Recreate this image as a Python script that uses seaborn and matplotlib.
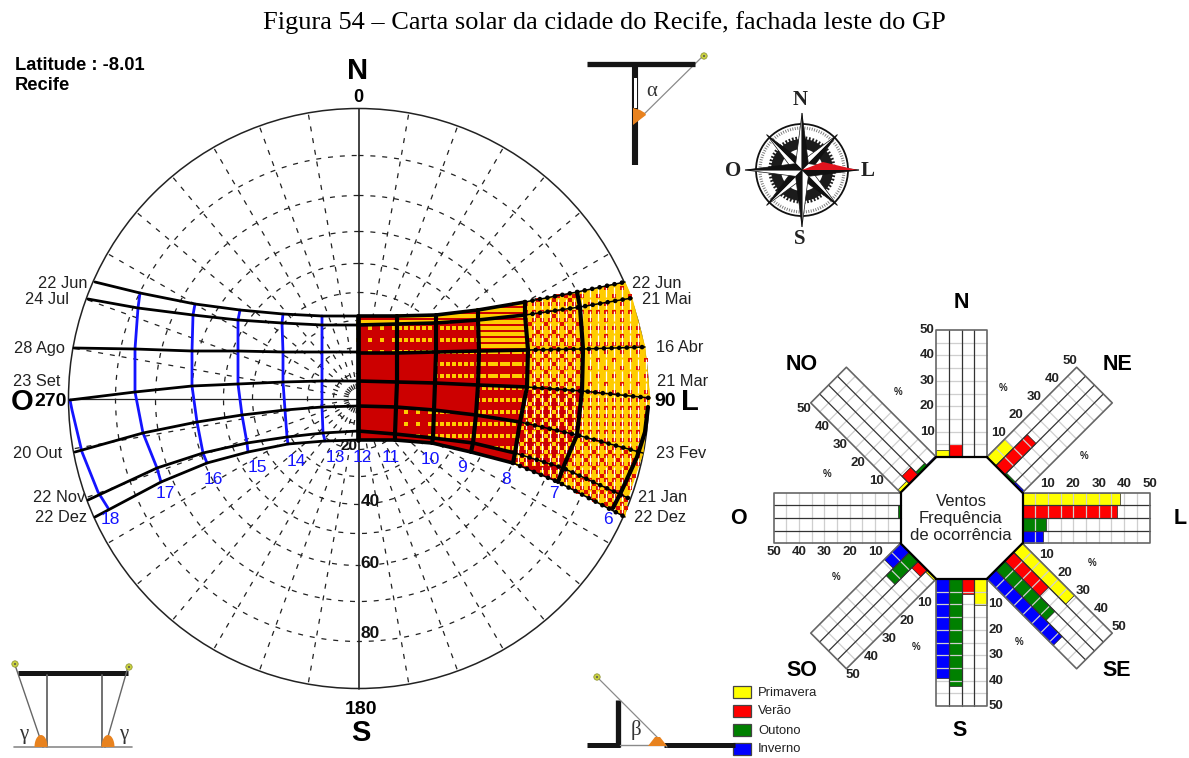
from matplotlib import pyplot as plt
from matplotlib.patches import Circle, Wedge, Polygon, Rectangle
from matplotlib.path import Path
import numpy as np
import seaborn as sns

# solar chart, values (rows = date curves, columns = hour lines)
left_dates = ["22 Jun", "24 Jul", "28 Ago", "23 Set", "20 Out", "22 Nov", "22 Dez"]
right_dates = ["22 Jun", "21 Mai", "16 Abr", "21 Mar", "23 Fev", "21 Jan", "22 Dez"]

left_x = [[358, 322, 283, 240, 195, 140, 95],
          [358, 322, 282, 238, 193, 138, 88],
          [358, 322, 283, 238, 192, 135, 74],
          [358, 322, 283, 238, 192, 135, 70],
          [358, 322, 285, 242, 197, 143, 75],
          [358, 323, 287, 247, 203, 157, 88],
          [358, 325, 288, 248, 207, 161, 95]]
left_y = [[316, 316, 314, 310, 304, 293, 282],
          [325, 325, 323, 320, 315, 308, 299],
          [352, 352, 352, 351, 351, 349, 348],
          [381, 381, 382, 384, 386, 392, 400],
          [406, 407, 410, 415, 422, 433, 452],
          [431, 433, 437, 443, 453, 468, 500],
          [440, 441, 444, 452, 463, 482, 517]]
right_x = [[358, 397, 436, 478, 525, 577, 625],
           [358, 397, 436, 478, 525, 580, 632],
           [358, 397, 436, 479, 528, 583, 645],
           [358, 397, 435, 478, 527, 582, 650],
           [358, 396, 434, 476, 520, 577, 643],
           [358, 395, 433, 473, 515, 563, 628],
           [358, 395, 432, 471, 513, 558, 625]]
right_y = [[316, 316, 315, 310, 302, 292, 282],
           [325, 324, 323, 320, 315, 307, 298],
           [353, 353, 352, 351, 350, 349, 347],
           [381, 382, 383, 385, 387, 391, 398],
           [406, 407, 410, 415, 422, 435, 453],
           [431, 434, 438, 443, 453, 468, 498],
           [440, 440, 443, 452, 463, 482, 517]]
hour18_x = [70, 72, 82, 98, 108]
hour18_y = [400, 410, 452, 492, 508]
hour6_x = [648, 645, 637, 622, 613]
hour6_y = [407, 432, 457, 490, 508]

# share of yellow in each cell of the shaded part
yellow_share = [[.35, .35, .35, .45, .70, .85],
                [.05, .10, .15, .30, .60, .80],
                [.00, .00, .08, .20, .65, .85],
                [.00, .00, .00, .12, .40, .75],
                [.00, .03, .08, .12, .35, .65],
                [.00, .00, .00, .00, .30, .55]]

altitude_ticks = [20, 40, 60, 80]
altitude_radii = [25, 51, 78, 106, 135, 167, 203, 243]

# wind frequency, %, order of wind_dirs
wind_dirs = ["N", "NE", "L", "SE", "S", "SO", "O", "NO"]
primavera = [2.9, 10, 38.5, 29, 10.2, 1, 0.3, 1.5]
verao = [5, 17.5, 37.4, 19.5, 6, 3.7, 0.3, 4.2]
outono = [0, 1, 9.2, 28, 42, 13, 1, 1.5]
inverno = [0, 1, 8, 37, 39, 9, 0, 0.5]
seasons = ["Primavera", "Verão", "Outono", "Inverno"]
season_colors = ["#ffff00", "#ff0000", "#008000", "#0000ff"]
wind_ticks = [10, 20, 30, 40, 50]

sns.set_theme(style="white")
plt.rcParams['font.family'] = ['Liberation Sans', 'DejaVu Sans']

fig = plt.figure(figsize=(11.89, 7.58), dpi=100)
ax = fig.add_axes([0, 0, 1, 1])
ax.set_xlim(0, 1189)
ax.set_ylim(758, 0)
ax.axis("off")

CX, CY, R = 358.5, 398.5, 290
BLUE = "#1414ff"
YELLOW = "#ffcc00"


def curve(x, y, color="black", lw=2.0, z=4, **kw):
    sns.lineplot(x=np.asarray(x), y=np.asarray(y), sort=False, estimator=None, color=color,
                 linewidth=lw, zorder=z, ax=ax, legend=False, **kw)


def label(x, y, s, size, weight="normal", color="black", ha="center", **kw):
    ax.text(x, y, s, fontsize=size, fontweight=weight, color=color, ha=ha, va="center", zorder=8, **kw)


def dots(pts, color, s):
    sns.scatterplot(x=pts[:, 0], y=pts[:, 1], color=color, marker="s", s=s, linewidth=0, zorder=3.2,
                    ax=ax, legend=False)


fig.text(604 / 1189, 1 - 23 / 758, "Figura 54 – Carta solar da cidade do Recife, fachada leste do GP",
         family="Liberation Serif", fontsize=19, color="black", ha="center", va="center")

# polar grid
ax.add_patch(Circle((CX, CY), R, fill=False, ec="#222222", lw=1.1, zorder=2))
for r in altitude_radii:
    ax.add_patch(Circle((CX, CY), r, fill=False, ec="#222222", lw=0.9, ls=(0, (4, 5.5)), zorder=1))
for az in range(0, 360, 10):
    if az % 90 == 0:
        continue
    a = np.deg2rad(az)
    ax.plot([CX + 10 * np.sin(a), CX + R * np.sin(a)], [CY - 10 * np.cos(a), CY - R * np.cos(a)],
            color="#222222", lw=0.9, ls=(0, (4, 5.5)), zorder=1)
curve([CX, CX], [CY - R, CY + R], color="#222222", lw=1.2, z=2)
curve([CX - R, CX + R], [CY, CY], color="#222222", lw=0.9, z=2)

# shaded part of the east side
rx, ry = np.array(right_x, float), np.array(right_y, float)
bayer = np.array([[0, 8, 2, 10], [12, 4, 14, 6], [3, 11, 1, 9], [15, 7, 13, 5]]) / 16 + 1 / 32
gx, gy = np.meshgrid(np.arange(358, 652, 3.0), np.arange(280, 520, 3.0))
fine = np.column_stack([gx.ravel(), gy.ravel()])
fix = np.tile(np.arange(gx.shape[1]), gx.shape[0])
fiy = np.repeat(np.arange(gx.shape[0]), gx.shape[1])
gx, gy = np.meshgrid(np.arange(358, 652, 4.0), np.arange(280, 520, 4.0))
coarse = np.column_stack([gx.ravel(), gy.ravel()])
cix = np.tile(np.arange(gx.shape[1]), gx.shape[0])
ciy = np.repeat(np.arange(gx.shape[0]), gx.shape[1])
speck, yel, red, white = [], [], [], []
for j in range(6):
    for i in range(6):
        corners = [(rx[j, i], ry[j, i]), (rx[j, i + 1], ry[j, i + 1]),
                   (rx[j + 1, i + 1], ry[j + 1, i + 1]), (rx[j + 1, i], ry[j + 1, i])]
        cell = Path(corners)
        share = yellow_share[j][i]
        base = YELLOW if share >= .5 else "#cc0000"
        ax.add_patch(Polygon(corners, closed=True, fc=base, ec=base, lw=0.5, zorder=3))
        if i < 4:
            # thin wavy rows of yellow in the dark red
            inside = cell.contains_points(fine)
            step = 2 if share >= .3 else 4
            speck.append(fine[inside & (fiy % step == 0) & (bayer[fiy % 4, fix % 4] < share * 3)])
        else:
            inside = cell.contains_points(coarse)
            if share >= .5:
                red.append(coarse[inside & (bayer[ciy % 4, cix % 4] < (1 - share))])
            else:
                yel.append(coarse[inside & (bayer[ciy % 4, cix % 4] < share)])
            white.append(coarse[inside & (cix % 2 == 0) & (ciy % 3 == 0)])
dots(np.vstack(speck), YELLOW, 5)
dots(np.vstack(yel), YELLOW, 9)
dots(np.vstack(red), "#dd1100", 5)
white = np.vstack(white)
ax.vlines(white[:, 0], white[:, 1] - 5, white[:, 1] + 5, color="white", lw=0.9, zorder=3.4)

# date curves and hour lines
for j in range(7):
    curve(left_x[j], left_y[j], lw=2.0)
    curve(right_x[j][:5], right_y[j][:5], lw=2.6)
    curve(right_x[j][4:], right_y[j][4:], lw=1.1)
    curve(right_x[j][4:], right_y[j][4:], lw=3.4, linestyle=(0, (0.01, 1.6)), dash_capstyle="round")
lx, ly = np.array(left_x), np.array(left_y)
for i in range(1, 6):
    curve(lx[:, i], ly[:, i], color=BLUE, lw=2.0, z=3.8)
    curve(rx[:, i], ry[:, i], lw=3.0, z=4.2)
curve(hour18_x, hour18_y, color=BLUE, lw=2.0, z=3.8)
curve(hour6_x, hour6_y, lw=3.0, z=4.2)
curve(rx[:, 0], ry[:, 0], lw=3.4, z=4.2)

# labels of the chart
label(15, 66, "Latitude : -8.01", 13.2, "bold", ha="left")
label(15, 86, "Recife", 13.2, "bold", ha="left")
label(358, 71, "N", 21, "bold")
label(358, 97, "0", 13, "bold")
label(22, 402, "O", 21, "bold")
label(51, 402, "270", 14, "bold")
label(665, 402, "90", 14, "bold")
label(690, 402, "L", 21, "bold")
label(361, 709, "180", 14, "bold")
label(361, 733, "S", 21, "bold")
for a, yy in zip(altitude_ticks, [446, 502, 563, 634]):
    label(370 if a > 20 else 349, yy, str(a), 12.5 if a > 20 else 11, "bold", color="#111111")
for s, x, y in zip(left_dates, [87, 69, 65, 60, 62, 85, 87], [284, 300, 348, 381, 453, 497, 518]):
    label(x, y, s, 11.8, color="#222222", ha="right")
for s, x, y in zip(right_dates, [632, 642, 656, 657, 656, 638, 634], [284, 299, 347, 381, 453, 497, 518]):
    label(x, y, s, 11.8, color="#222222", ha="left")
for s, x, y in zip(["18", "17", "16", "15", "14", "13", "12"],
                   [110, 165, 213, 257, 296, 335, 362], [520, 493, 479, 468, 461, 457, 457]):
    label(x, y, s, 12.5, color=BLUE)
for s, x, y in zip(["11", "10", "9", "8", "7", "6"],
                   [391, 430, 462, 506, 554, 608], [458, 460, 467, 479, 493, 519]):
    label(x, y, s, 12.5, color=BLUE)

# small section sketches
ORANGE = "#e8821e"
GREY = "#8a8a8a"


def sun(x, y):
    ax.add_patch(Circle((x, y), 3.2, fc="#c8d040", ec="#8a9030", lw=0.5, zorder=5))
    ax.add_patch(Circle((x, y), 1.0, fc="#555555", ec="none", zorder=6))


def dome(x0, rx_, ry_, y0=747):
    t = np.linspace(np.pi, 2 * np.pi, 20)
    ax.add_patch(Polygon(np.column_stack([x0 + rx_ * np.cos(t), y0 + ry_ * np.sin(t)]), closed=True,
                         fc=ORANGE, ec="none", zorder=5))


# alpha
curve([587, 695], [64, 64], color="#151515", lw=3.8, solid_capstyle="butt")
curve([635, 635], [64, 165], color="#151515", lw=4.4, solid_capstyle="butt")
ax.add_patch(Rectangle((633.5, 78), 3, 30, fc="white", ec="none", zorder=5))
ax.add_patch(Polygon([(633, 108), (640, 110), (645, 113), (646, 115), (633, 125)], closed=True,
                     fc=ORANGE, ec="none", zorder=5))
curve([633, 703], [125, 56], color=GREY, lw=0.9, z=3)
sun(704, 56)
label(652, 92, "α", 15, family="Liberation Serif", color="#333333")
# gamma
curve([18, 128], [673, 673], color="#151515", lw=3.6, solid_capstyle="butt")
curve([47, 47], [675, 747], color="#666666", lw=1.3)
curve([102, 102], [675, 747], color="#666666", lw=1.3)
curve([14, 132], [747, 747], color=GREY, lw=1.2)
curve([43, 15], [747, 665], color="#666666", lw=1.0)
curve([105, 128], [747, 667], color="#666666", lw=1.0)
dome(41, 6.5, 12)
dome(108, 6.5, 12)
sun(15, 664)
sun(129, 667)
label(24, 735, "γ", 15, family="Liberation Serif", color="#333333")
label(124, 735, "γ", 15, family="Liberation Serif", color="#333333")
# beta
curve([618, 618], [700, 747], color="#151515", lw=3.8, solid_capstyle="butt")
curve([587, 620], [745, 745], color="#151515", lw=3.6, solid_capstyle="butt")
curve([664, 735], [745, 745], color="#151515", lw=3.6, solid_capstyle="butt")
curve([620, 664], [745, 745], color=GREY, lw=1.0)
curve([667, 597], [747, 677], color=GREY, lw=0.9)
ax.add_patch(Polygon([(648, 746), (655, 737), (660, 737), (667, 746)], closed=True, fc=ORANGE, ec="none", zorder=5))
sun(597, 677)
label(636, 730, "β", 15, family="Liberation Serif", color="#333333")

# compass rose
RX, RY = 802, 170
ax.add_patch(Circle((RX, RY), 46, fill=False, ec="#111111", lw=1.3, zorder=2))
ax.add_patch(Circle((RX, RY), 42, fill=False, ec="#777777", lw=2.2, ls=(0, (0.3, 0.5)), zorder=2))
ax.add_patch(Wedge((RX, RY), 31, 0, 360, width=10, fc="#1c1c1c", ec="none", zorder=2))
ax.add_patch(Circle((RX, RY), 32, fill=False, ec="#1c1c1c", lw=2.5, ls=(0, (0.5, 0.5)), zorder=2))
for az, tip, side in [(a, 50, 9) for a in (45, 135, 225, 315)] + [(a, 57, 9) for a in (0, 90, 180, 270)]:
    t = np.deg2rad(az)
    p = (RX + tip * np.sin(t), RY - tip * np.cos(t))
    q1 = (RX + side * np.sin(t + np.pi / 4), RY - side * np.cos(t + np.pi / 4))
    q2 = (RX + side * np.sin(t - np.pi / 4), RY - side * np.cos(t - np.pi / 4))
    ax.add_patch(Polygon([(RX, RY), p, q2], closed=True, fc="white", ec="#111111", lw=0.5, zorder=3))
    ax.add_patch(Polygon([(RX, RY), p, q1], closed=True, fc="#111111", ec="#111111", lw=0.5, zorder=3))
ax.add_patch(Polygon([(RX, RY), (823, 162), (857, 170)], closed=True, fc="#e0141e", ec="none", zorder=4))
for s, x, y in [("N", 800, 100), ("O", 733, 171), ("L", 868, 171), ("S", 800, 239)]:
    label(x, y, s, 15, "bold", family="Liberation Serif", color="#222222")

# wind diagram
WX, WY = 961.5, 518
BASE, PCT, LANE = 61, 2.54, 12.6


def arm(i, pct, lane):
    t = np.deg2rad(45 * i)
    r = BASE + pct * PCT
    s = (lane - 2) * LANE
    return WX + r * np.sin(t) + s * np.cos(t), WY - r * np.cos(t) + s * np.sin(t)


for i, name in enumerate(wind_dirs):
    for k, vals in enumerate([primavera, verao, outono, inverno]):
        v = vals[i]
        ax.add_patch(Polygon([arm(i, 0, k), arm(i, v, k), arm(i, v, k + 1), arm(i, 0, k + 1)], closed=True,
                             fc=season_colors[k], ec="#222222", lw=0.5, zorder=2))
    for p in range(5, 50, 5):
        a, b = arm(i, p, 0), arm(i, p, 4)
        curve([a[0], b[0]], [a[1], b[1]], color="#cfcfcf", lw=0.9, z=2.5)
    for k in (1, 2, 3):
        a, b = arm(i, 0, k), arm(i, 50, k)
        curve([a[0], b[0]], [a[1], b[1]], color="#333333", lw=0.9, z=3)
    border = [arm(i, 0, 0), arm(i, 50, 0), arm(i, 50, 4), arm(i, 0, 4)]
    curve([q[0] for q in border], [q[1] for q in border], color="#666666", lw=1.2, z=3)
    a, b = arm(i, 0, 0), arm(i, 0, 4)
    curve([a[0], b[0]], [a[1], b[1]], lw=1.6, z=3.5)
    for w in wind_ticks:
        lx_, ly_ = arm(i, w, -0.72)
        label(lx_, ly_, str(w), 9.5, "bold", color="#222222")

for name, x, y in [("N", 961, 303), ("NE", 1118, 365), ("L", 1180, 518), ("SE", 1117, 671),
                   ("S", 960, 731), ("SO", 802, 671), ("O", 738, 518), ("NO", 802, 365)]:
    label(x, y, name, 15.5, "bold")
for x, y in [(898, 392), (1003, 388), (1084, 456), (827, 474), (1092, 563), (836, 577), (916, 647), (1019, 642)]:
    label(x, y, "%", 7, "bold", color="#222222")
label(961, 501, "Ventos", 12, color="#222222")
label(961, 518, "Frequência", 12, color="#222222")
label(961, 536, "de ocorrência", 12, color="#222222")

for k, s in enumerate(seasons):
    y = 686 + 19 * k
    ax.add_patch(Rectangle((733, y), 18, 12, fc=season_colors[k], ec="#444444", lw=0.9, zorder=3))
    label(758, y + 6.5, s, 9.4, color="#222222", ha="left")

ax.set_xlim(0, 1189)
ax.set_ylim(758, 0)
fig.savefig("out.png", dpi=100, facecolor="white")
